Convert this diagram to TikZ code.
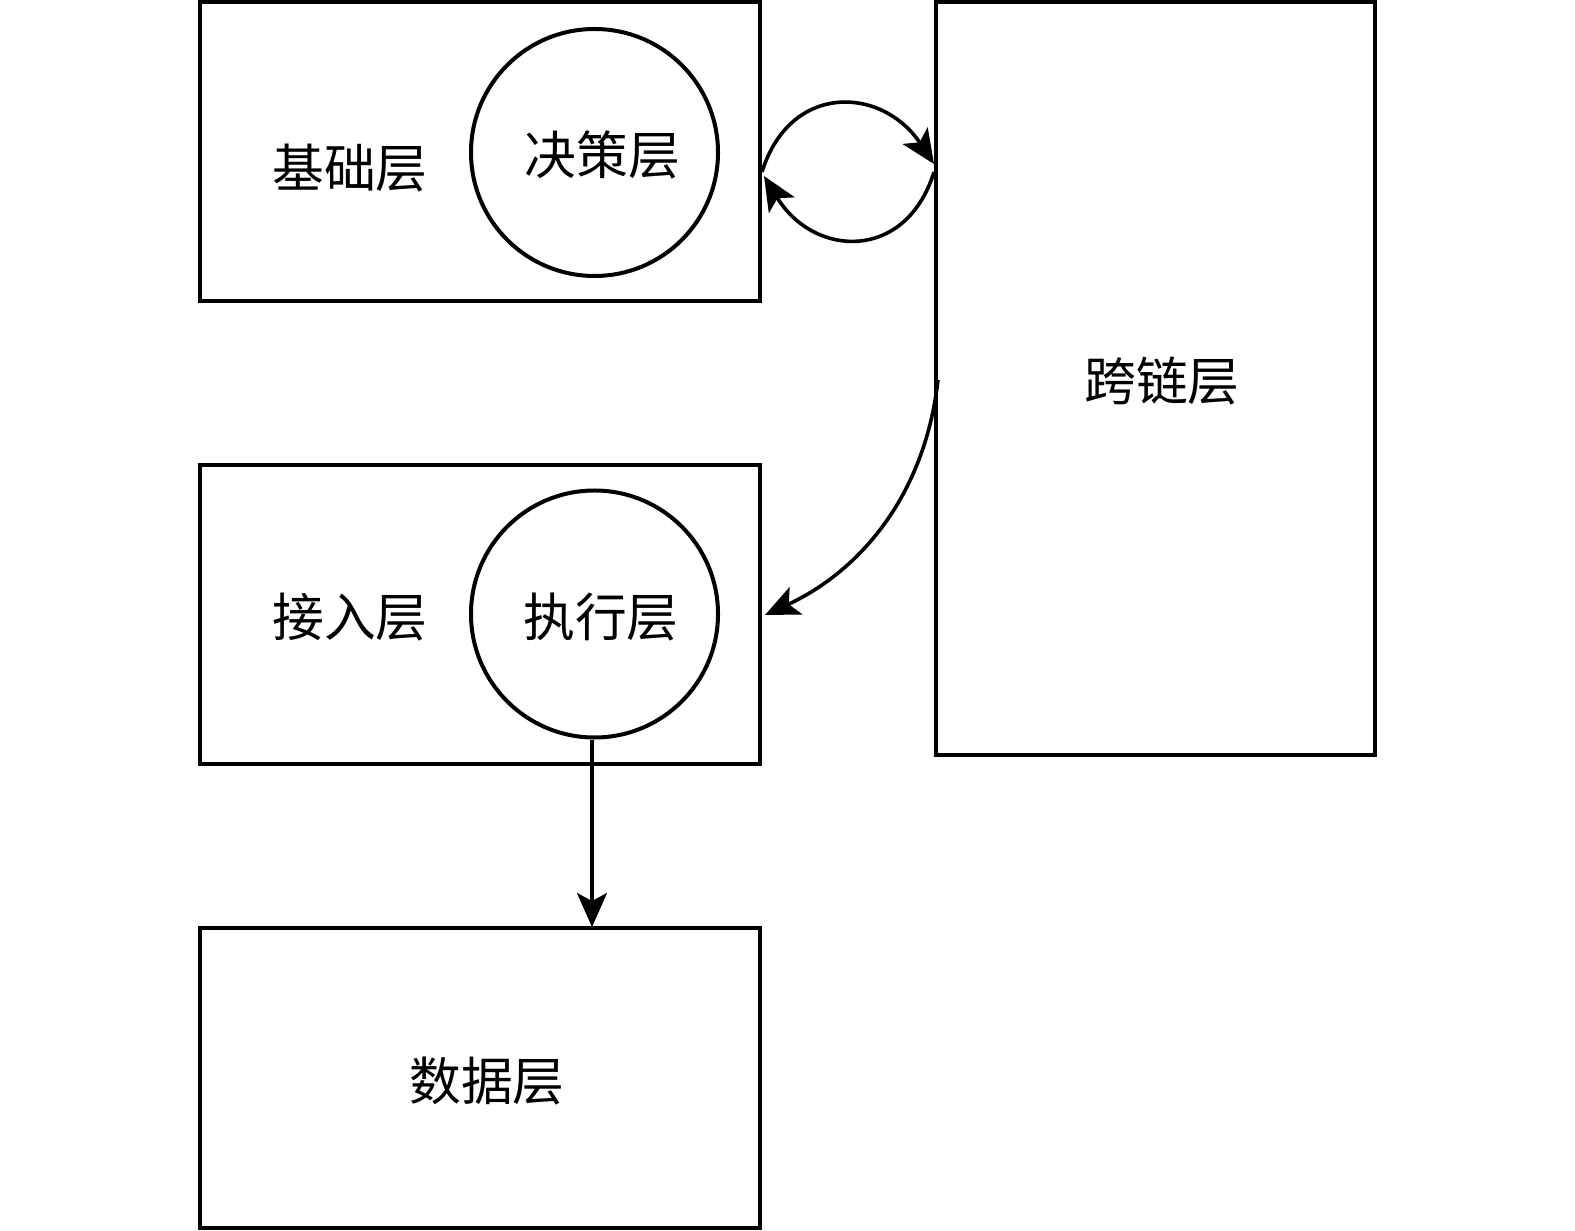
\documentclass[tikz,border=0pt]{standalone}
\usepackage{fontspec}
\newfontfamily\cjk{Noto Sans CJK SC}
\usetikzlibrary{arrows.meta}
\begin{document}
\begin{tikzpicture}[x=0.5bp,y=-0.5bp,
  box/.style={draw,line width=2bp},
  circ/.style={draw,line width=2bp,circle,minimum size=123.5bp,inner sep=0pt},
  lab/.style={font=\cjk\fontsize{26}{26}\selectfont},
  conn/.style={line width=1.8bp,-{Stealth[length=17bp,width=15bp,inset=4bp]}}]
\useasboundingbox (0,0) rectangle (1575,1231);
\draw[box] (199.5,2.5) rectangle (760,301);
\draw[box] (199.5,465.5) rectangle (760,764);
\draw[box] (199.5,928) rectangle (760,1228);
\draw[box] (936,2.5) rectangle (1375,755);
\node[circ] (c1) at (594.5,152.5) {};
\node[circ] (c2) at (594.5,614) {};
\node[lab] (t1) at (350,168.5) {基础层};
\node[lab] (t2) at (602.5,155) {决策层};
\node[lab] (t3) at (1162,380.5) {跨链层};
\node[lab] (t4) at (350,617.5) {接入层};
\node[lab] (t5) at (601,617) {执行层};
\node[lab] (t6) at (487,1081) {数据层};
\coordinate (a1) at (762,172);
\coordinate (a2) at (934,164);
\coordinate (b1) at (934,172);
\coordinate (b2) at (764,176);
\coordinate (d1) at (938,380);
\coordinate (d2) at (765,615);
\coordinate (e2) at (592,927);
\draw[conn] (a1) .. controls (790,82) and (882,86) .. (a2);
\draw[conn] (b1) .. controls (906,262) and (814,258) .. (b2);
\draw[conn] (d1) .. controls (924,502) and (854,574) .. (d2);
\draw[conn] (c2.south -| e2) -- (e2);
\end{tikzpicture}
\end{document}
